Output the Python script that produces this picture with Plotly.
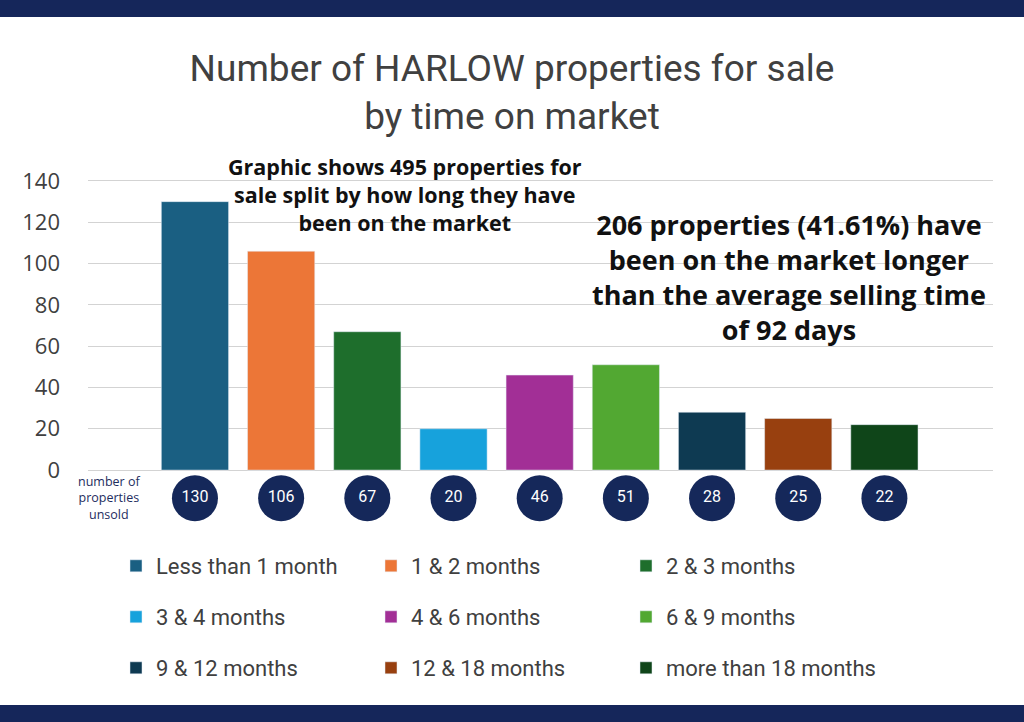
import plotly.graph_objects as go

categories = ["Less than 1 month", "1 & 2 months", "2 & 3 months", "3 & 4 months",
              "4 & 6 months", "6 & 9 months", "9 & 12 months", "12 & 18 months",
              "more than 18 months"]
values = [130, 106, 67, 20, 46, 51, 28, 25, 22]
colors = ["#1a5f82", "#ec7637", "#1e6e2c", "#17a2dc", "#a22f96", "#52a832",
          "#0e3a52", "#98400f", "#0f4519"]
y_ticks = [0, 20, 40, 60, 80, 100, 120, 140]

W, H = 1024, 722
L, R, T, B = 88, 31, 175, 197
PW, PH = W - L - R, H - T - B

def px_x(px):
    return (px - L) / PW

def px_y(py):
    return (H - B - py) / PH

fig = go.Figure()
positions = list(range(1, len(values) + 1))
for i, (cat, val, col) in enumerate(zip(categories, values, colors)):
    fig.add_trace(go.Bar(
        x=[positions[i]], y=[val], name=cat, marker_color=col, width=0.78,
        legend="legend" if i < 3 else ("legend2" if i < 6 else "legend3"),
        hoverinfo="skip"))

circle_y = -13.6
fig.add_trace(go.Scatter(
    x=positions, y=[circle_y] * len(values), mode="markers+text",
    marker=dict(size=46, color="#15285a"), text=[str(v) for v in values],
    textfont=dict(color="white", size=16, family="Roboto"),
    textposition="middle center", showlegend=False, hoverinfo="skip"))

legend_common = dict(orientation="h", entrywidth=210, entrywidthmode="pixels",
                     font=dict(size=22, color="#404040", family="Roboto"),
                     xanchor="left", yanchor="middle", bgcolor="rgba(0,0,0,0)",
                     itemwidth=30, tracegroupgap=0)

fig.update_layout(
    width=W, height=H,
    margin=dict(l=L, r=R, t=T, b=B),
    paper_bgcolor="white", plot_bgcolor="white",
    barmode="overlay",
    title=dict(text="Number of HARLOW properties for sale<br>by time on market",
               x=0.5, xanchor="center", y=1 - 81 / H, yanchor="middle",
               font=dict(size=37, color="#404040", family="Roboto")),
    xaxis=dict(range=[-0.241, 10.26], showticklabels=False, showgrid=False,
               zeroline=False, showline=False, fixedrange=True),
    yaxis=dict(range=[-26.6, 142.9], tickvals=y_ticks, showgrid=True,
               gridcolor="#d3d3d3", gridwidth=1.3, zeroline=False, showline=False,
               tickfont=dict(size=22, color="#404040", family="Open Sans"),
               ticks="", ticklabelstandoff=27, fixedrange=True),
    legend=dict(**legend_common, x=px_x(116), y=px_y(566)),
    legend2=dict(**legend_common, x=px_x(116), y=px_y(617)),
    legend3=dict(**legend_common, x=px_x(116), y=px_y(668)),
    showlegend=True,
)

# navy bands
for y0, y1 in [(0, 17), (705, 722)]:
    fig.add_shape(type="rect", xref="paper", yref="paper",
                  x0=px_x(0), x1=px_x(W), y0=px_y(y1), y1=px_y(y0),
                  fillcolor="#15265a", line_width=0, layer="above")

fig.add_annotation(x=0, y=circle_y, xref="x", yref="y",
                   text="number of<br>properties<br>unsold", showarrow=False,
                   font=dict(size=12.5, color="#1e2d5e", family="Open Sans"),
                   align="center")

fig.add_annotation(x=px_x(405), y=px_y(194), xref="paper", yref="paper",
                   text="Graphic shows 495 properties for<br>sale split by how long they have<br>been on the market",
                   showarrow=False, align="center", xanchor="center", yanchor="middle",
                   font=dict(size=21.5, color="#111111", family="Open Sans"))
fig.add_annotation(x=px_x(789), y=px_y(277), xref="paper", yref="paper",
                   text="206 properties (41.61%) have<br>been on the market longer<br>than the average selling time<br>of 92 days",
                   showarrow=False, align="center", xanchor="center", yanchor="middle",
                   font=dict(size=27, color="#111111", family="Open Sans"))

for ann in fig.layout.annotations[1:]:
    ann.text = "<b>" + ann.text.replace("<br>", "</b><br><b>") + "</b>"

fig.write_html("out.html", config={"displayModeBar": False},
               post_script="document.body.style.margin='0';document.body.style.overflow='hidden';")
